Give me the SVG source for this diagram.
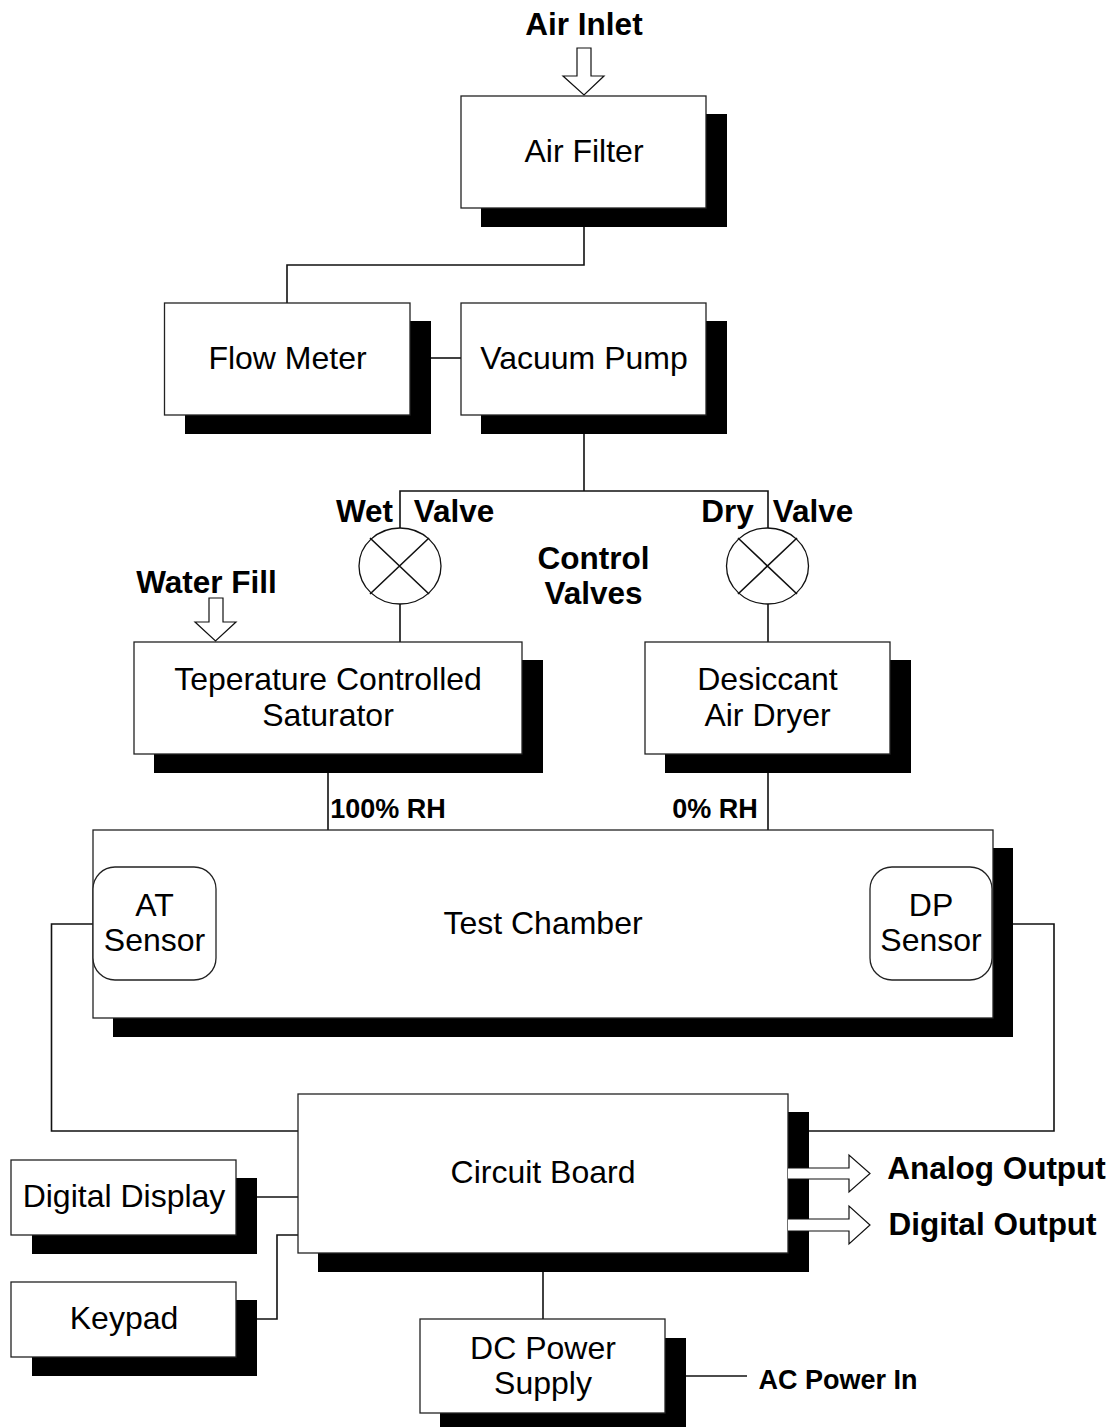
<svg xmlns="http://www.w3.org/2000/svg" width="1114" height="1427" viewBox="0 0 1114 1427">
<style>
text{font-family:"Liberation Sans",Arial,sans-serif;fill:#000;text-anchor:middle}
.n{font-size:32px}
.b{font-size:31.500px;font-weight:bold}
.s{font-size:27px;font-weight:bold}
.box{fill:#fff;stroke:#222;stroke-width:1.3}
.sh{fill:#000;stroke:none}
.w{fill:none;stroke:#111;stroke-width:1.6}
.v{fill:#fff;stroke:#111;stroke-width:1.3}
.ar{fill:#fff;stroke:#111;stroke-width:1.2}
</style>
<rect width="1114" height="1427" fill="#fff"/>
<g id="connectors">
<path class="w" d="M584 208V265H287V303"/>
<path class="w" d="M431 358H461"/>
<path class="w" d="M584 415V491M400 528V491H768V528"/>
<path class="w" d="M400 604V642M768 604V642"/>
<path class="w" d="M328 773V830M768 773V830"/>
<path class="w" d="M93 924H51.500V1131H298"/>
<path class="w" d="M1013 924H1054V1131H809"/>
<path class="w" d="M257 1197H298"/>
<path class="w" d="M257 1319H277V1235H298"/>
<path class="w" d="M543 1272V1319"/>
<path class="w" d="M686 1376H747"/>
</g>
<g id="air-filter"><rect class="sh" x="481" y="114" width="246" height="113"/><rect class="box" x="461" y="96" width="245" height="112"/><text class="n" x="584" y="162">Air Filter</text></g>
<g id="flow-meter"><rect class="sh" x="185" y="321" width="246" height="113"/><rect class="box" x="164.500" y="303" width="245.500" height="112"/><text class="n" x="287.500" y="369">Flow Meter</text></g>
<g id="vacuum-pump"><rect class="sh" x="481" y="321" width="246" height="113"/><rect class="box" x="461" y="303" width="245" height="112"/><text class="n" x="584" y="369">Vacuum Pump</text></g>
<g id="wet-valve"><ellipse class="v" cx="400" cy="566" rx="41" ry="38"/><path class="w" d="M370 538L429 594M429 538L370 594"/></g>
<g id="dry-valve"><ellipse class="v" cx="767.500" cy="566" rx="41" ry="38"/><path class="w" d="M738 538L797 594M797 538L738 594"/></g>
<g id="saturator"><rect class="sh" x="154" y="660" width="389" height="113"/><rect class="box" x="134" y="642" width="388" height="112"/><text class="n" x="328" y="690">Teperature Controlled</text><text class="n" x="328" y="726">Saturator</text></g>
<g id="dryer"><rect class="sh" x="665" y="660" width="246" height="113"/><rect class="box" x="645" y="642" width="245" height="112"/><text class="n" x="767.500" y="690">Desiccant</text><text class="n" x="767.500" y="726">Air Dryer</text></g>
<g id="test-chamber"><rect class="sh" x="113" y="848" width="900" height="189"/><rect class="box" x="93" y="830" width="900" height="188"/><text class="n" x="543" y="934">Test Chamber</text></g>
<g id="at-sensor"><rect class="box" x="93" y="867" width="123" height="113" rx="22"/><text class="n" x="154.500" y="916">AT</text><text class="n" x="154.500" y="951">Sensor</text></g>
<g id="dp-sensor"><rect class="box" x="870" y="867" width="122" height="113" rx="22"/><text class="n" x="931" y="916">DP</text><text class="n" x="931" y="951">Sensor</text></g>
<g id="circuit-board"><rect class="sh" x="318" y="1112" width="491" height="160"/><rect class="box" x="298" y="1094" width="490" height="159"/><text class="n" x="543" y="1183">Circuit Board</text></g>
<g id="digital-display"><rect class="sh" x="32" y="1178" width="225" height="76"/><rect class="box" x="11" y="1160" width="225" height="75"/><text class="n" x="124" y="1207">Digital Display</text></g>
<g id="keypad"><rect class="sh" x="32" y="1300" width="225" height="76"/><rect class="box" x="11" y="1282" width="225" height="75"/><text class="n" x="124" y="1329">Keypad</text></g>
<g id="dc-power"><rect class="sh" x="440" y="1338" width="246" height="89"/><rect class="box" x="420" y="1319" width="245" height="94"/><text class="n" x="543" y="1359">DC Power</text><text class="n" x="543" y="1394">Supply</text></g>
<g id="arrows">
<path class="ar" d="M577 48H591V76H604L584 95L563 76H577Z"/>
<path class="ar" d="M209 598H223V622H236L215.500 641L195 622H209Z"/>
<path class="ar" d="M788 1168H849V1155L870 1173.500L849 1192V1179H788"/>
<path class="ar" d="M788 1219H849V1206L870 1225L849 1244V1231H788"/>
</g>
<g id="labels">
<text class="b" x="584" y="35">Air Inlet</text>
<text class="b" x="364.500" y="522">Wet</text>
<text class="b" x="454" y="522">Valve</text>
<text class="b" x="727.500" y="522">Dry</text>
<text class="b" x="813" y="522">Valve</text>
<text class="b" x="593.500" y="569">Control</text>
<text class="b" x="593.500" y="604">Valves</text>
<text class="b" x="206.500" y="593">Water Fill</text>
<text class="s" x="388" y="818">100% RH</text>
<text class="s" x="715" y="818">0% RH</text>
<text class="b" x="996.500" y="1179">Analog Output</text>
<text class="b" x="992.500" y="1235">Digital Output</text>
<text class="s" x="838" y="1389">AC Power In</text>
</g>
</svg>
